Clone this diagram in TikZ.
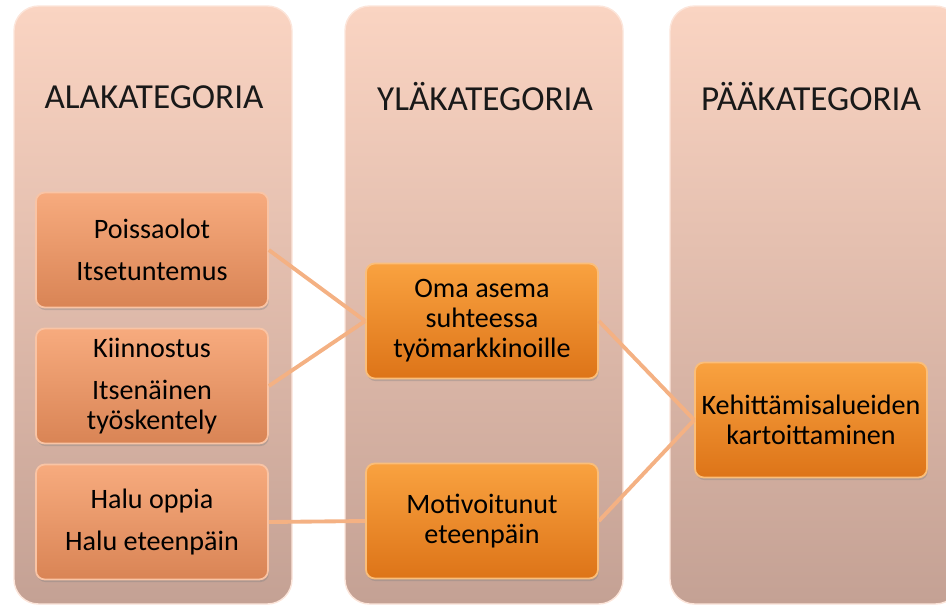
\documentclass[tikz,border=0pt]{standalone}
\usepackage{fontspec}
\setmainfont{Carlito}
\usetikzlibrary{shadows}

\definecolor{paneltop}{HTML}{FAD4C2}
\definecolor{panelbot}{HTML}{C4A194}
\definecolor{subtop}{HTML}{F7AB7E}
\definecolor{subbot}{HTML}{D98455}
\definecolor{maintop}{HTML}{F9A240}
\definecolor{mainbot}{HTML}{DD7418}
\definecolor{linkcol}{HTML}{F4B183}

\tikzset{
  panel/.style={rounded corners=14pt, top color=paneltop, bottom color=panelbot,
    draw=paneltop!60!white, line width=0.8pt},
  title/.style={font=\fontsize{20}{24}\selectfont, text=black!90},
  subbox/.style={rounded corners=5pt, top color=subtop, bottom color=subbot,
    draw=subtop!70!white, line width=1pt, minimum width=4.64cm, minimum height=2.3cm,
    align=center, inner sep=2pt, font=\fontsize{16}{17}\selectfont, text=black,
    drop shadow={opacity=0.35, shadow xshift=0.5pt, shadow yshift=-1.5pt}},
  mainbox/.style={subbox, top color=maintop, bottom color=mainbot, draw=maintop!70!white},
  link/.style={draw=linkcol, line width=2.2pt}
}

\begin{document}
\begin{tikzpicture}[x=0.02cm, y=-0.02cm]
  \useasboundingbox (0, 0) rectangle (946, 609);
  \clip (0, 0) rectangle (946, 609);

  % columns
  \path[panel] (14, 6) rectangle (292, 604);
  \path[panel] (345, 6) rectangle (623, 604);
  \path[panel] (670, 6) rectangle (960, 604);

  \node[title] (alahead) at (154, 97) {ALAKATEGORIA};
  \node[title] (ylahead) at (485, 97) {YLÄKATEGORIA};
  \node[title] (paahead) at (811, 97) {PÄÄKATEGORIA};

  % sub categories
  \node[subbox] (poissa) at (152, 250) {Poissaolot\\[7pt]Itsetuntemus};
  \node[subbox] (kiinn) at (152, 386) {Kiinnostus\\[7pt]Itsenäinen\\työskentely};
  \node[subbox] (halu) at (152, 522) {Halu oppia\\[7pt]Halu eteenpäin};

  % upper categories
  \node[mainbox] (asema) at (482, 321) {Oma asema\\suhteessa\\työmarkkinoille};
  \node[mainbox] (motiv) at (482, 521) {Motivoitunut\\eteenpäin};

  % main category
  \node[mainbox] (kehit) at (811, 420) {Kehittämisalueiden\\kartoittaminen};

  \draw[link] (poissa.east) -- (asema.west);
  \draw[link] (kiinn.east) -- (asema.west);
  \draw[link] (halu.east) -- (motiv.west);
  \draw[link] (asema.east) -- (kehit.west);
  \draw[link] (motiv.east) -- (kehit.west);
\end{tikzpicture}
\end{document}
